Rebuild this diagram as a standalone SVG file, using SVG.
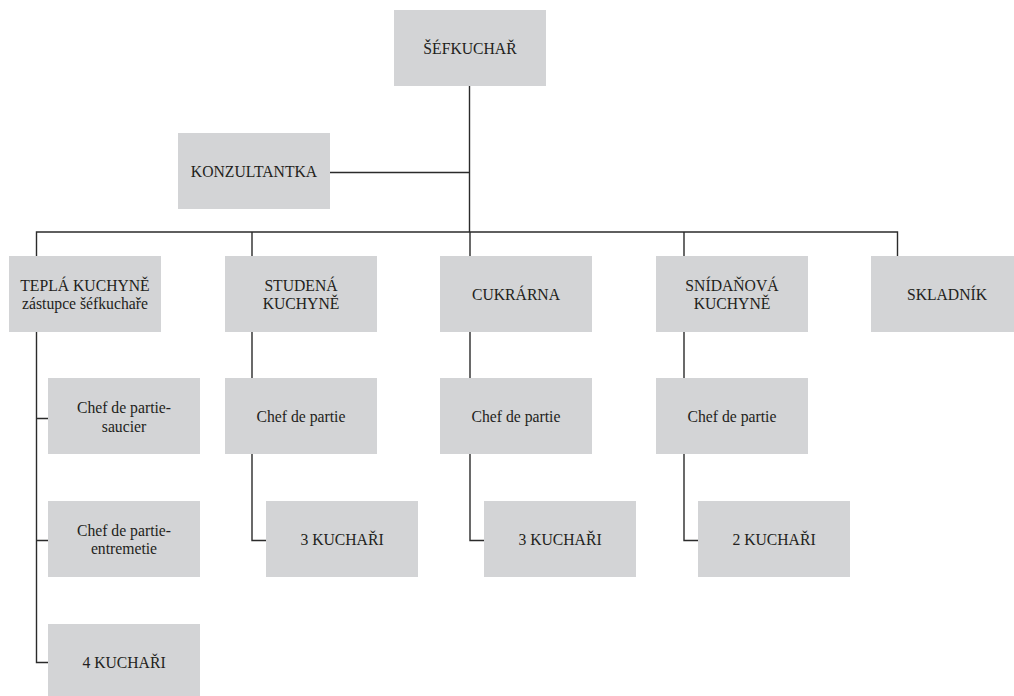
<svg xmlns="http://www.w3.org/2000/svg" width="1014" height="696" viewBox="0 0 1014 696">
<style>
.box{fill:#d3d4d6}
.t{font-family:"Liberation Serif","Times New Roman",serif;font-size:15.7px;fill:#231f20;text-anchor:middle}
.c{fill:none;stroke:#2b2b2b;stroke-width:1.4}
</style>
<rect width="1014" height="696" fill="#ffffff"/>
<g id="connectors" class="c">
<path d="M469.5 86V232"/>
<path d="M330 172.5H469.5"/>
<path d="M36.5 256V232H897.5V256"/>
<path d="M252 232V256M470 232V256M684 232V256"/>
<path d="M36.5 332V662.5H48M36.5 418.5H48M36.5 540.5H48"/>
<path d="M252 332V378M252 454V540.5H266"/>
<path d="M470 332V378M470 454V540.5H484"/>
<path d="M684 332V378M684 454V540.5H698"/>
</g>
<g id="sefkuchar"><rect class="box" x="394" y="10" width="152" height="76"/><text class="t" x="470" y="54">ŠÉFKUCHAŘ</text></g>
<g id="konzultantka"><rect class="box" x="178" y="133" width="152" height="76"/><text class="t" x="254" y="176.5">KONZULTANTKA</text></g>
<g id="tepla"><rect class="box" x="9" y="256" width="152" height="76"/><text class="t" x="85" y="291">TEPLÁ KUCHYNĚ</text><text class="t" x="85" y="309">zástupce šéfkuchaře</text></g>
<g id="studena"><rect class="box" x="225" y="256" width="152" height="76"/><text class="t" x="301" y="291">STUDENÁ</text><text class="t" x="301" y="309">KUCHYNĚ</text></g>
<g id="cukrarna"><rect class="box" x="440" y="256" width="152" height="76"/><text class="t" x="516" y="299.5">CUKRÁRNA</text></g>
<g id="snidanova"><rect class="box" x="656" y="256" width="152" height="76"/><text class="t" x="732" y="291">SNÍDAŇOVÁ</text><text class="t" x="732" y="309">KUCHYNĚ</text></g>
<g id="skladnik"><rect class="box" x="871" y="256" width="152" height="76"/><text class="t" x="947" y="299.5">SKLADNÍK</text></g>
<g id="saucier"><rect class="box" x="48" y="378" width="152" height="76"/><text class="t" x="124" y="413">Chef de partie-</text><text class="t" x="124" y="431.5">saucier</text></g>
<g id="entremetie"><rect class="box" x="48" y="501" width="152" height="76"/><text class="t" x="124" y="535.5">Chef de partie-</text><text class="t" x="124" y="554">entremetie</text></g>
<g id="kuchari4"><rect class="box" x="48" y="624" width="152" height="76"/><text class="t" x="124" y="667.5">4 KUCHAŘI</text></g>
<g id="chef-studena"><rect class="box" x="225" y="378" width="152" height="76"/><text class="t" x="301" y="421.5">Chef de partie</text></g>
<g id="kuchari-studena"><rect class="box" x="266" y="501" width="152" height="76"/><text class="t" x="342" y="544.5">3 KUCHAŘI</text></g>
<g id="chef-cukrarna"><rect class="box" x="440" y="378" width="152" height="76"/><text class="t" x="516" y="421.5">Chef de partie</text></g>
<g id="kuchari-cukrarna"><rect class="box" x="484" y="501" width="152" height="76"/><text class="t" x="560" y="544.5">3 KUCHAŘI</text></g>
<g id="chef-snidanova"><rect class="box" x="656" y="378" width="152" height="76"/><text class="t" x="732" y="421.5">Chef de partie</text></g>
<g id="kuchari-snidanova"><rect class="box" x="698" y="501" width="152" height="76"/><text class="t" x="774" y="544.5">2 KUCHAŘI</text></g>
</svg>
